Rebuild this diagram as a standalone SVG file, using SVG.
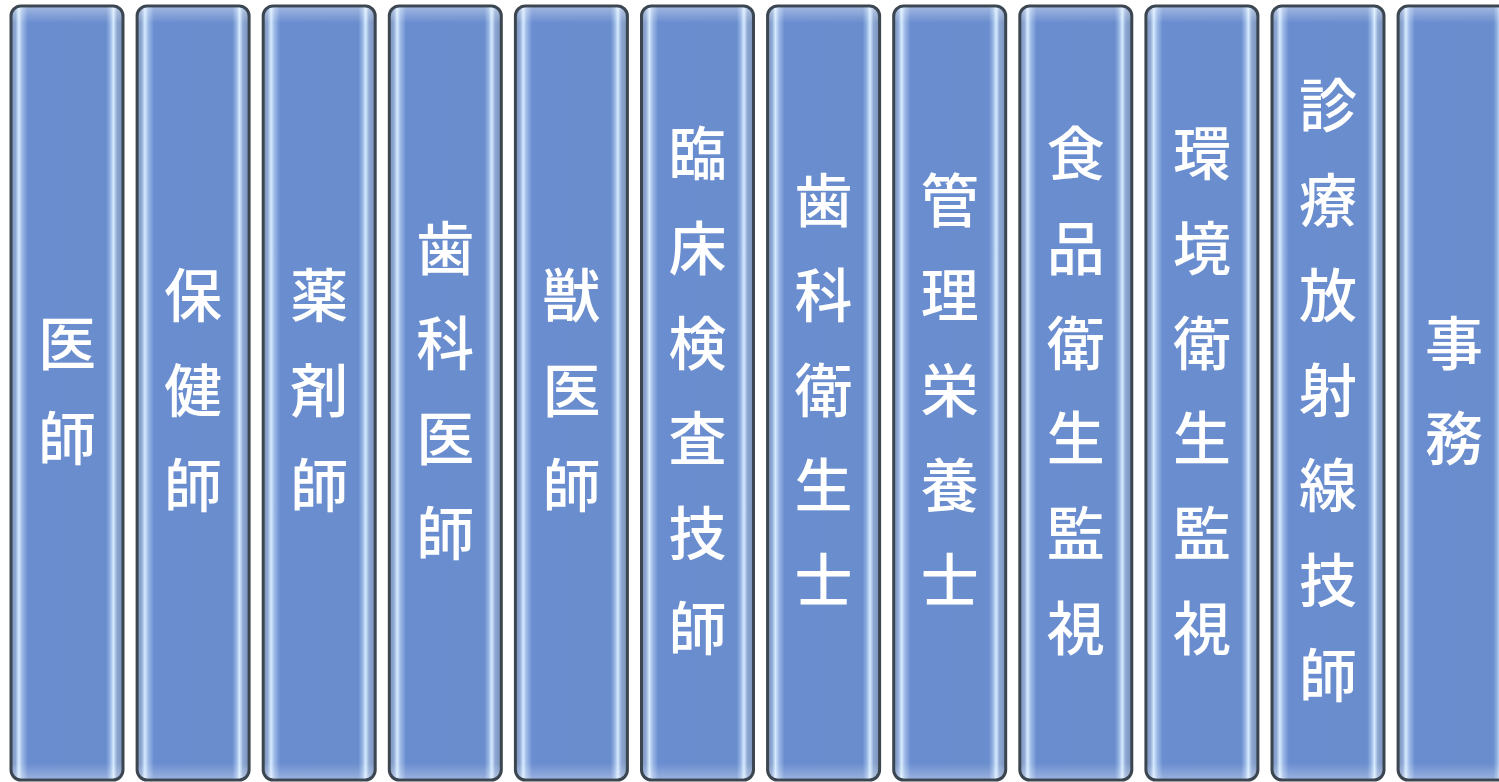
<svg xmlns="http://www.w3.org/2000/svg" width="1499" height="782" viewBox="0 0 1499 782">
<defs>
<linearGradient id="bar" x1="0" y1="0" x2="1" y2="0">
<stop offset="0" stop-color="#7b92bb"/>
<stop offset="0.04" stop-color="#8ea8d4"/>
<stop offset="0.07" stop-color="#d6ebff"/>
<stop offset="0.10" stop-color="#9db9e6"/>
<stop offset="0.15" stop-color="#6a8dd0"/>
<stop offset="0.85" stop-color="#6a8dcd"/>
<stop offset="0.885" stop-color="#94b3e2"/>
<stop offset="0.915" stop-color="#d6ebff"/>
<stop offset="0.945" stop-color="#8fa9d4"/>
<stop offset="1" stop-color="#7890b8"/>
</linearGradient>
<linearGradient id="rim" x1="0" y1="0" x2="0" y2="1">
<stop offset="0" stop-color="#ffffff" stop-opacity="0.35"/>
<stop offset="0.02" stop-color="#ffffff" stop-opacity="0"/>
<stop offset="0.98" stop-color="#ffffff" stop-opacity="0"/>
<stop offset="1" stop-color="#ffffff" stop-opacity="0.3"/>
</linearGradient>
</defs>
<style>
.box{fill:url(#bar);stroke:#3c4650;stroke-width:3}
.shine{fill:url(#rim);stroke:none}
.lbl{font-family:"Noto Sans CJK JP","Noto Sans CJK SC",sans-serif;font-size:58px;font-weight:500;fill:#ffffff;text-anchor:middle}
</style>
<rect width="1499" height="782" fill="#ffffff"/>
<g id="n1"><rect class="box" x="11" y="6" width="112" height="774" rx="10"/><rect class="shine" x="12.5" y="7.5" width="109" height="771" rx="9"/>
<text class="lbl"><tspan x="67" y="364.5">医</tspan><tspan x="67" y="459.5">師</tspan></text></g>
<g id="n2"><rect class="box" x="137.1" y="6" width="112" height="774" rx="10"/><rect class="shine" x="138.6" y="7.5" width="109" height="771" rx="9"/>
<text class="lbl"><tspan x="193.1" y="317">保</tspan><tspan x="193.1" y="412">健</tspan><tspan x="193.1" y="507">師</tspan></text></g>
<g id="n3"><rect class="box" x="263.2" y="6" width="112" height="774" rx="10"/><rect class="shine" x="264.7" y="7.5" width="109" height="771" rx="9"/>
<text class="lbl"><tspan x="319.2" y="317">薬</tspan><tspan x="319.2" y="412">剤</tspan><tspan x="319.2" y="507">師</tspan></text></g>
<g id="n4"><rect class="box" x="389.3" y="6" width="112" height="774" rx="10"/><rect class="shine" x="390.8" y="7.5" width="109" height="771" rx="9"/>
<text class="lbl"><tspan x="445.3" y="269.5">歯</tspan><tspan x="445.3" y="364.5">科</tspan><tspan x="445.3" y="459.5">医</tspan><tspan x="445.3" y="554.5">師</tspan></text></g>
<g id="n5"><rect class="box" x="515.4" y="6" width="112" height="774" rx="10"/><rect class="shine" x="516.9" y="7.5" width="109" height="771" rx="9"/>
<text class="lbl"><tspan x="571.4" y="317">獣</tspan><tspan x="571.4" y="412">医</tspan><tspan x="571.4" y="507">師</tspan></text></g>
<g id="n6"><rect class="box" x="641.5" y="6" width="112" height="774" rx="10"/><rect class="shine" x="643" y="7.5" width="109" height="771" rx="9"/>
<text class="lbl"><tspan x="697.5" y="174.5">臨</tspan><tspan x="697.5" y="269.5">床</tspan><tspan x="697.5" y="364.5">検</tspan><tspan x="697.5" y="459.5">査</tspan><tspan x="697.5" y="554.5">技</tspan><tspan x="697.5" y="649.5">師</tspan></text></g>
<g id="n7"><rect class="box" x="767.6" y="6" width="112" height="774" rx="10"/><rect class="shine" x="769.1" y="7.5" width="109" height="771" rx="9"/>
<text class="lbl"><tspan x="823.6" y="222">歯</tspan><tspan x="823.6" y="317">科</tspan><tspan x="823.6" y="412">衛</tspan><tspan x="823.6" y="507">生</tspan><tspan x="823.6" y="602">士</tspan></text></g>
<g id="n8"><rect class="box" x="893.7" y="6" width="112" height="774" rx="10"/><rect class="shine" x="895.2" y="7.5" width="109" height="771" rx="9"/>
<text class="lbl"><tspan x="949.7" y="222">管</tspan><tspan x="949.7" y="317">理</tspan><tspan x="949.7" y="412">栄</tspan><tspan x="949.7" y="507">養</tspan><tspan x="949.7" y="602">士</tspan></text></g>
<g id="n9"><rect class="box" x="1019.8" y="6" width="112" height="774" rx="10"/><rect class="shine" x="1021.3" y="7.5" width="109" height="771" rx="9"/>
<text class="lbl"><tspan x="1075.8" y="174.5">食</tspan><tspan x="1075.8" y="269.5">品</tspan><tspan x="1075.8" y="364.5">衛</tspan><tspan x="1075.8" y="459.5">生</tspan><tspan x="1075.8" y="554.5">監</tspan><tspan x="1075.8" y="649.5">視</tspan></text></g>
<g id="n10"><rect class="box" x="1145.9" y="6" width="112" height="774" rx="10"/><rect class="shine" x="1147.4" y="7.5" width="109" height="771" rx="9"/>
<text class="lbl"><tspan x="1201.9" y="174.5">環</tspan><tspan x="1201.9" y="269.5">境</tspan><tspan x="1201.9" y="364.5">衛</tspan><tspan x="1201.9" y="459.5">生</tspan><tspan x="1201.9" y="554.5">監</tspan><tspan x="1201.9" y="649.5">視</tspan></text></g>
<g id="n11"><rect class="box" x="1272" y="6" width="112" height="774" rx="10"/><rect class="shine" x="1273.5" y="7.5" width="109" height="771" rx="9"/>
<text class="lbl"><tspan x="1328" y="127">診</tspan><tspan x="1328" y="222">療</tspan><tspan x="1328" y="317">放</tspan><tspan x="1328" y="412">射</tspan><tspan x="1328" y="507">線</tspan><tspan x="1328" y="602">技</tspan><tspan x="1328" y="697">師</tspan></text></g>
<g id="n12"><rect class="box" x="1398.1" y="6" width="112" height="774" rx="10"/><rect class="shine" x="1399.6" y="7.5" width="109" height="771" rx="9"/>
<text class="lbl"><tspan x="1454.1" y="364.5">事</tspan><tspan x="1454.1" y="459.5">務</tspan></text></g>
</svg>
